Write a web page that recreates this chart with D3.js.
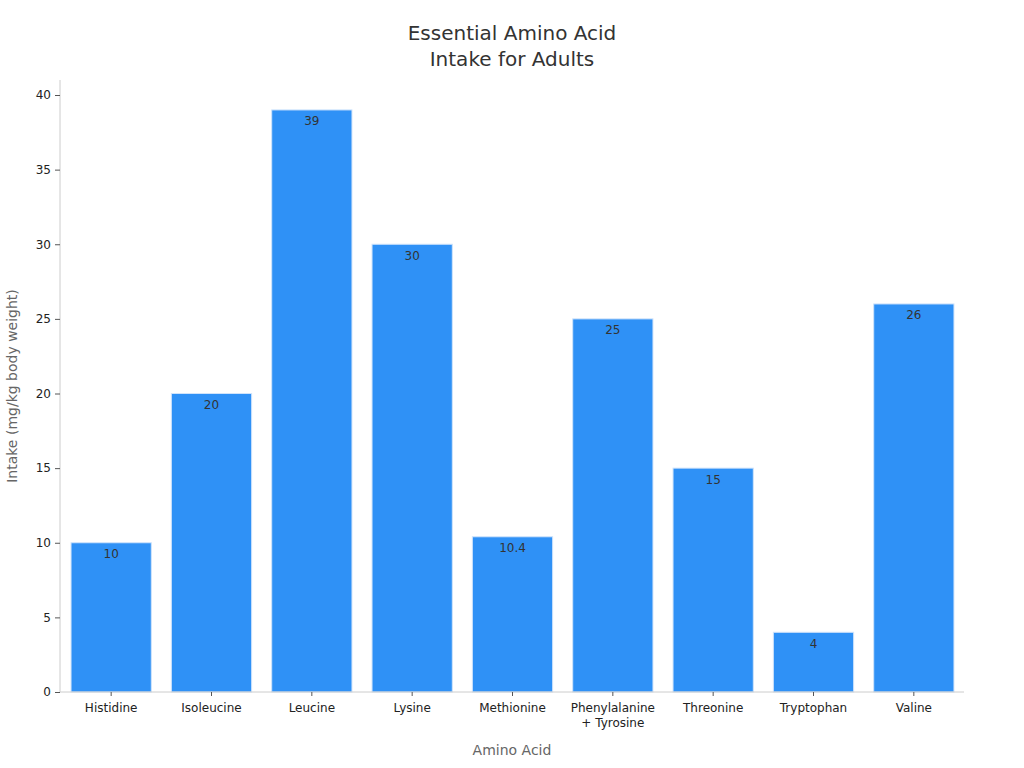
<!DOCTYPE html>
<html><head><meta charset="utf-8">
<script src="https://cdn.jsdelivr.net/npm/d3@7"></script>
<style>body{margin:0;background:#fff;font-family:"DejaVu Sans",sans-serif;}</style>
</head><body>
<svg id="c" width="1024" height="768"></svg>
<script>
const categories = ["Histidine","Isoleucine","Leucine","Lysine","Methionine","Phenylalanine\n+ Tyrosine","Threonine","Tryptophan","Valine"];
const values = [10,20,39,30,10.4,25,15,4,26];
const yTicks = [0,5,10,15,20,25,30,35,40];

const svg = d3.select("#c");
const m = {l:60, r:61, t:95, b:76};
const W = 1024, H = 768;
const x = d3.scaleBand().domain(categories).range([m.l + 1, W - m.r + 1]).paddingInner(0.2).paddingOuter(0.1);
const y = d3.scaleLinear().domain([0,40]).range([H - m.b, m.t]);

// bars
svg.append("g").selectAll("rect").data(categories).join("rect")
  .attr("x", d => x(d)).attr("width", x.bandwidth())
  .attr("y", (d,i) => y(values[i])).attr("height", (d,i) => y(0) - y(values[i]))
  .attr("fill", "#2f91f6").attr("stroke", "#cfe3fb").attr("stroke-width", 1);

svg.append("g").selectAll("text").data(categories).join("text")
  .attr("x", d => x(d) + x.bandwidth()/2)
  .attr("y", (d,i) => y(values[i]) + 15.5)
  .attr("text-anchor","middle").attr("font-size",12).attr("fill","#333")
  .text((d,i) => values[i]);

// y axis
const ya = svg.append("g").attr("transform", `translate(${m.l},0)`)
  .call(d3.axisLeft(y).tickValues(yTicks).tickSize(5).tickPadding(4));
ya.select(".domain").attr("stroke","#ccc").attr("d", `M0,${m.t-15}V${y(0)}`);
ya.selectAll(".tick line").attr("stroke","#555");
ya.selectAll(".tick text").attr("font-size",12).attr("fill","#222").attr("font-family","DejaVu Sans");

// x axis
const xa = svg.append("g").attr("transform", `translate(0,${y(0)})`)
  .call(d3.axisBottom(x).tickSize(4).tickPadding(7));
xa.select(".domain").attr("stroke","#ccc").attr("d", `M${m.l},0H${W-m.r+1}`);
xa.selectAll(".tick line").attr("stroke","#555");
xa.selectAll(".tick text").attr("font-size",12).attr("fill","#222").attr("font-family","DejaVu Sans")
  .each(function(d){
    const t = d3.select(this); const parts = d.split("\n"); t.text(null);
    parts.forEach((p,i) => t.append("tspan").attr("x",0).attr("dy", i===0 ? "0.71em" : "1.3em").text(p));
  });

// titles
svg.append("text").attr("x",512).attr("y",40).attr("text-anchor","middle").attr("font-size",20).attr("fill","#333").text("Essential Amino Acid");
svg.append("text").attr("x",512).attr("y",66).attr("text-anchor","middle").attr("font-size",20).attr("fill","#333").text("Intake for Adults");
svg.append("text").attr("x",512).attr("y",755).attr("text-anchor","middle").attr("font-size",14).attr("fill","#666").text("Amino Acid");
svg.append("text").attr("transform",`translate(17,386) rotate(-90)`).attr("text-anchor","middle").attr("font-size",14).attr("fill","#666").text("Intake (mg/kg body weight)");
</script>
</body></html>
